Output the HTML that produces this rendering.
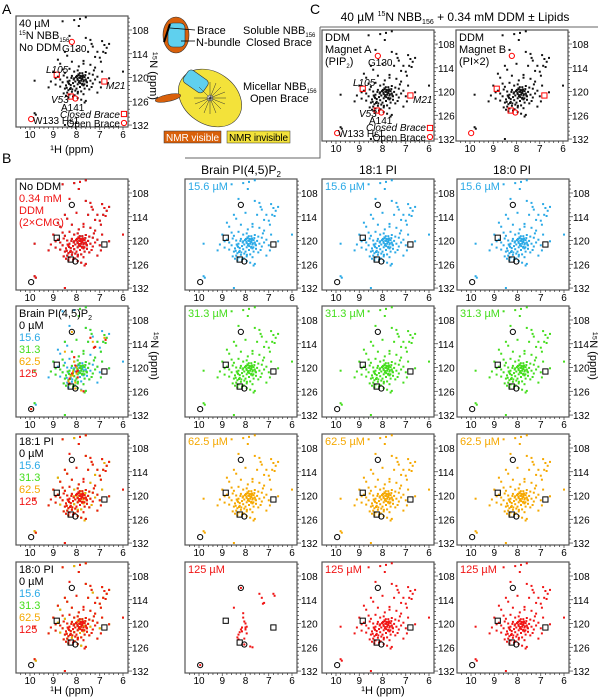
<!DOCTYPE html>
<html><head><meta charset="utf-8"><style>
html,body{margin:0;padding:0;background:#fff;}
svg{display:block;font-family:"Liberation Sans",sans-serif;}
</style></head><body>
<svg id="fig" width="605" height="700" viewBox="0 0 605 700">
<g font-size="14">
<text x="2" y="14">A</text>
<text x="2" y="163">B</text>
<text x="310" y="14">C</text>
</g>
<text x="455" y="21" font-size="12" text-anchor="middle">40 µM <tspan font-size="7" dy="-5">15</tspan><tspan dy="5">N NBB</tspan><tspan font-size="7" dy="3">156</tspan><tspan dy="-3"> + 0.34 mM DDM ± Lipids</tspan></text>
<path d="M320 27 H598 M320 27 V158 H185" stroke="#666" stroke-width="1" fill="none"/>
<g font-size="12" text-anchor="middle">
<text x="241" y="174">Brain PI(4,5)P<tspan font-size="8" dy="3">2</tspan></text>
<text x="378" y="174">18:1 PI</text>
<text x="512" y="174">18:0 PI</text>
</g>
<g>
<ellipse cx="176" cy="35" rx="13" ry="18" fill="#d9600a" stroke="#333" stroke-width="0.6"/>
<rect x="168" y="23" width="17" height="24" rx="5" fill="#5fd0ee" stroke="#333" stroke-width="0.6"/>
<path d="M170 24 L164 42" stroke="#000" stroke-width="2"/>
<line x1="170" y1="28" x2="195" y2="30" stroke="#000" stroke-width="0.8"/>
<line x1="181" y1="41" x2="195" y2="41" stroke="#000" stroke-width="0.8"/>
<text x="197" y="34" font-size="11">Brace</text>
<text x="196" y="46" font-size="11">N-bundle</text>
<text x="243" y="34" font-size="11">Soluble NBB<tspan font-size="6" dy="3">156</tspan></text>
<text x="246" y="46" font-size="11">Closed Brace</text>
<ellipse cx="210" cy="98" rx="34" ry="26" transform="rotate(35 210 98)" fill="#f3e23a" stroke="#333" stroke-width="0.6"/>
<rect x="184" y="74" width="24" height="15" rx="4" transform="rotate(35 196 81)" fill="#5fd0ee" stroke="#333" stroke-width="0.6"/>
<circle cx="210" cy="98" r="3" fill="#fff" stroke="#333" stroke-width="0.5"/>
<path d="M210 98 l0 -16 M210 98 l11 -11 M210 98 l16 0 M210 98 l11 11 M210 98 l0 16 M210 98 l-11 11 M210 98 l-16 0 M210 98 l-11 -11 M210 98 l6 -15 M210 98 l15 -6 M210 98 l15 6 M210 98 l6 15 M210 98 l-6 15 M210 98 l-15 6" stroke="#333" stroke-width="0.5"/>
<ellipse cx="168" cy="98" rx="13" ry="3.5" transform="rotate(-12 168 98)" fill="#d9600a" stroke="#333" stroke-width="0.5"/>
<text x="243" y="90" font-size="11">Micellar NBB<tspan font-size="6" dy="3">156</tspan></text>
<text x="250" y="102" font-size="11">Open Brace</text>
<rect x="164" y="131" width="57" height="12" fill="#d9600a" stroke="#333" stroke-width="0.5"/>
<text x="166" y="141" font-size="10" fill="#fff" textLength="53">NMR visible</text>
<rect x="227" y="131" width="63" height="12" fill="#f3e23a" stroke="#333" stroke-width="0.5"/>
<text x="229" y="141" font-size="10" textLength="59">NMR invisible</text>
</g>
</svg>
<script>
const peakH=[8.1,7.85,7.6,8.6,7.4,7.35,6.9,6.8,6.7,7.3,7.6,8.5,8.4,7.5,7.2,7.0,6.95,8.0,8.7,8.2,7.7,7.4,7.2,7.9,8.3,8.6,9.0,8.5,8.1,7.95,7.75,7.6,7.45,7.3,7.1,6.9,8.8,8.7,8.55,8.4,8.3,8.2,8.1,8.0,7.95,7.9,7.85,7.8,7.75,7.7,7.65,7.6,7.55,7.5,7.4,7.3,7.2,8.05,8.15,8.25,8.35,8.45,8.6,8.7,8.9,9.1,9.2,8.5,8.35,8.25,8.1,7.95,7.85,7.75,7.65,7.55,7.45,7.35,8.4,8.3,8.45,8.2,8.05,7.95,7.8,7.7,8.55,8.35,8.15,7.95,7.8,7.65,7.6,7.1,6.95,6.6,6.0,9.8,9.8,9.75,8.5,7.9,8.3,7.1,7.7,8.8,8.9,7.25,7.0,6.85,6.75,6.6,
 7.82,7.78,7.88,7.92,7.72,7.68,7.84,7.96,8.02,7.76,7.86,7.74,7.9,7.8,7.7,8.0,8.12,8.22,8.32,8.28,8.18,7.62,7.58,7.98,7.66,8.38,8.42,8.08,7.94,7.88];
const peakN=[105.5,105.2,104.8,105.8,110.5,111.5,110.8,111.8,112.5,112.2,110,113.5,114.5,113.5,114.8,115,116,113,116.5,116,115.8,116.8,117.5,117.2,117.8,118,118.5,118.8,118.5,118.2,118.9,118.6,119,119.3,119.8,118.5,119.8,120.5,119.5,120,120.8,119.6,120.2,119.8,120.6,119.4,120.1,119.7,120.4,121,119.9,120.5,121.2,120.1,120.8,121.5,120.5,121,121.4,121.9,121.3,122,121.2,122.3,121.8,121,122.5,122.8,123.2,122.6,122.2,121.7,122.4,121.6,122.8,122.1,123,122.4,123.8,124.3,124.6,123.6,123.3,124,123.5,124.2,124,125,124.8,125.2,125.6,126.3,125.9,123.8,122.5,120.2,118.5,120.8,129,129.4,132,107,109.5,113.5,116.5,115.5,120.2,118.2,121.2,113.5,113.8,111.5,
 119.6,120.3,120.9,119.2,119.5,120.7,121.4,120.3,119.9,121.8,118.9,120.0,121.2,120.8,122.0,122.8,120.5,120.1,121.6,122.9,123.0,119.4,121.0,119.6,121.7,121.0,122.6,124.5,123.6,120.0];
const pipH=[8.1,8.05,8.0,7.95,8.15,8.2,8.25,8.3,8.35,8.3,8.0,7.95,8.05,7.7,7.8,8.1,8.5,7.2,7.3,7.4,6.8,6.75,8.2,9.95,8.05,7.25,8.15,8.0];
const pipN=[118.5,119.5,120,120.8,121,121.5,122.2,122.8,123.5,124,121.5,122.5,123.8,126,125.8,117.4,116,114.8,113.5,112.5,112.5,113,111,130.5,125.3,115,122,121];
const circH=[8.2,8.05,9.95], circN=[111,125.3,130.5];
const sqH=[8.85,6.8,8.25], sqN=[119.3,121,124.8];
const xTicks=[10,9,8,7,6], yTicks=[108,114,120,126,132];
const BLUE='#2aa9e6',GREEN='#44dd1c',ORANGE='#f5a800',RED='#f01414';
const NS='http://www.w3.org/2000/svg';
const svg=document.getElementById('fig');
function mk(tag,attrs,parent){const e=document.createElementNS(NS,tag);for(const k in attrs)e.setAttribute(k,attrs[k]);parent.appendChild(e);return e;}
function panel(x0,y0,name,opts){
  const g=mk('g',{},svg);
  
  
  const W=112,H=111;
  const xs=h=>x0+14+(10-h)*23.25;
  const ys=n=>y0+14+(n-108)*3.96;
  mk('rect',{x:x0,y:y0,width:W,height:H,fill:'#fff',stroke:'#555','stroke-width':1.2},g);
  (opts.layers||[]).forEach(L=>{
    const H_=L.h,N_=L.n;
    for(let i=0;i<H_.length;i++){
      if(L.skip && i%L.skip===0) continue;
      const px=xs(H_[i]),py=ys(N_[i]);
      if(px<x0||px>x0+W||py<y0||py>y0+H) continue;
      const r=mk('rect',{x:(px-1).toFixed(1),y:(py-1).toFixed(1),width:L.s||2,height:L.s||2,fill:L.c},g);
      
      
    }
  });
  const mc=opts.markColor||'#000';
  for(let i=0;i<circH.length;i++){const c=mk('circle',{cx:xs(circH[i]),cy:ys(circN[i]),r:2.6,fill:'none',stroke:mc,'stroke-width':1},g);}
  for(let i=0;i<sqH.length;i++){const s=mk('rect',{x:xs(sqH[i])-2.6,y:ys(sqN[i])-2.6,width:5.2,height:5.2,fill:'none',stroke:mc,'stroke-width':1},g);}
  for(let v=10.4;v>=5.9;v-=0.2){const x=xs(v);const major=Math.abs(v-Math.round(v))<0.05;mk('line',{x1:x,x2:x,y1:y0+H,y2:y0+H+(major?3:2),stroke:'#333','stroke-width':0.7},g);}
  for(let v=105;v<=132;v+=1){const y=ys(v);const major=(v-108)%6===0;mk('line',{x1:x0+W,x2:x0+W+(major?4:2),y1:y,y2:y,stroke:'#333','stroke-width':0.7},g);}
  xTicks.forEach(t=>{const e=mk('text',{x:xs(t),y:y0+H+11,'font-size':10,'text-anchor':'middle'},g);e.textContent=t;});
  yTicks.forEach(t=>{const e=mk('text',{x:x0+W+4,y:ys(t)+4,'font-size':10},g);e.textContent=t;});
  (opts.labels||[]).forEach((lb,i)=>{const e=mk('text',{x:x0+3,y:y0+11+i*12,'font-size':11,fill:lb[1]},g);e.innerHTML=lb[0];});
  return g;
}
const black=[{h:peakH,n:peakN,c:'#111'}];
const sub='<tspan font-size="6" dy="3">156</tspan><tspan dy="-3"></tspan>';
panel(16,16,'panel-a-spectrum',{layers:black,markColor:'#f00',
 labels:[['40 µM','#000'],['<tspan font-size="6" dy="-4">15</tspan><tspan dy="4">N NBB</tspan>'+sub,'#000'],['No DDM','#000']]});
panel(322,30,'panel-c-magnet-a',{layers:black,markColor:'#f00',
 labels:[['DDM','#000'],['Magnet A','#000'],['(PIP<tspan font-size="6" dy="3">2</tspan><tspan dy="-3">)</tspan>','#000']]});
panel(456,30,'panel-c-magnet-b',{layers:black,markColor:'#f00',labels:[['DDM','#000'],['Magnet B','#000'],['(PI×2)','#000']]});
function txt(x,y,s,sz,extra,name){const e=mk('text',Object.assign({x:x,y:y,'font-size':sz},extra||{}),svg);e.textContent=s;return e;}
// Panel A annotations
txt(62,52,'G130',10,{},'label-g130');
txt(46,73,'L105',10,{'font-style':'italic'},'label-l105');
txt(106,89,'M21',10,{'font-style':'italic'},'label-m21');
txt(51,103,'V53',10,{'font-style':'italic'},'label-v53');
txt(61,111,'A141',10,{},'label-a141');
txt(33,124,'W133 Hε1',10,{},'label-w133');
txt(120,118,'Closed Brace',10,{'font-style':'italic','text-anchor':'end'},'legend-closed-brace');
txt(120,127,'Open Brace',10,{'text-anchor':'end'},'legend-open-brace');
mk('rect',{x:121.4,y:111.4,width:5.2,height:5.2,fill:'none',stroke:'#f00'},svg);
mk('circle',{cx:124,cy:123,r:2.6,fill:'none',stroke:'#f00'},svg);
// Panel C annotations
txt(368,66,'G130',10,{},'label-g130-c');
txt(353,86,'L105',10,{'font-style':'italic'},'label-l105-c');
txt(413,103,'M21',10,{'font-style':'italic'},'label-m21-c');
txt(359,117,'V53',10,{'font-style':'italic'},'label-v53-c');
txt(369,124,'A141',10,{},'label-a141-c');
txt(338,137,'W133 Hε1',10,{},'label-w133-c');
txt(426,131,'Closed Brace',10,{'font-style':'italic','text-anchor':'end'},'legend-closed-brace-c');
txt(426,141,'Open Brace',10,{'text-anchor':'end'},'legend-open-brace-c');
mk('rect',{x:427.4,y:125.4,width:5.2,height:5.2,fill:'none',stroke:'#f00'},svg);
mk('circle',{cx:430,cy:137,r:2.6,fill:'none',stroke:'#f00'},svg);
// Axis titles
txt(72,153,'¹H (ppm)',11,{'text-anchor':'middle'},'x-axis-title-a');
txt(72,694,'¹H (ppm)',11,{'text-anchor':'middle'},'x-axis-title-b');
txt(383,694,'¹H (ppm)',11,{'text-anchor':'middle'},'x-axis-title-b-col3');
txt(0,0,'¹⁵N (ppm)',11,{transform:'translate(150,52) rotate(90)'},'y-axis-title-a');
txt(0,0,'¹⁵N (ppm)',11,{transform:'translate(151,332) rotate(90)'},'y-axis-title-b');
txt(0,0,'¹⁵N (ppm)',11,{transform:'translate(590,332) rotate(90)'},'y-axis-title-b-right');
// Grid B
const rowsY=[179,306,434,562], colsX=[16,185,322,457];
const concLbl=['15.6 µM','31.3 µM','62.5 µM','125 µM'], concCol=[BLUE,GREEN,ORANGE,RED];
const leg=(t)=>[[t,'#000'],['0 µM','#000'],['15.6',BLUE],['31.3',GREEN],['62.5',ORANGE],['125',RED]];
panel(colsX[0],rowsY[0],'panel-b-ddm',{layers:[{h:peakH,n:peakN,c:'#222'},{h:peakH,n:peakN,c:RED}],labels:[['No DDM','#000'],['0.34 mM',RED],['DDM',RED],['(2×CMC)',RED]]});
panel(colsX[0],rowsY[1],'panel-b-brain-pip2-overlay',{layers:[{h:peakH,n:peakN,c:BLUE},{h:peakH,n:peakN,c:GREEN,skip:3},{h:pipH,n:pipN,c:ORANGE},{h:pipH,n:pipN,c:RED,skip:2}],labels:leg('Brain PI(4,5)P<tspan font-size="7" dy="3">2</tspan>')});
panel(colsX[0],rowsY[2],'panel-b-18-1-overlay',{layers:[{h:peakH,n:peakN,c:GREEN},{h:peakH,n:peakN,c:ORANGE},{h:peakH,n:peakN,c:RED,skip:7}],labels:leg('18:1 PI')});
panel(colsX[0],rowsY[3],'panel-b-18-0-overlay',{layers:[{h:peakH,n:peakN,c:GREEN},{h:peakH,n:peakN,c:ORANGE},{h:peakH,n:peakN,c:RED,skip:9}],labels:leg('18:0 PI')});
const lipids=['brain-pip2','18-1-pi','18-0-pi'];
for(let c=1;c<4;c++){for(let r=0;r<4;r++){
  const useSub=(c===1&&r===3);
  const layers=useSub?[{h:pipH,n:pipN,c:concCol[r]}]:[{h:peakH,n:peakN,c:concCol[r]}];
  panel(colsX[c],rowsY[r],'panel-b-'+lipids[c-1]+'-'+(r+1),{layers:layers,labels:[[concLbl[r],concCol[r]]]});
}}
</script>
</body></html>
